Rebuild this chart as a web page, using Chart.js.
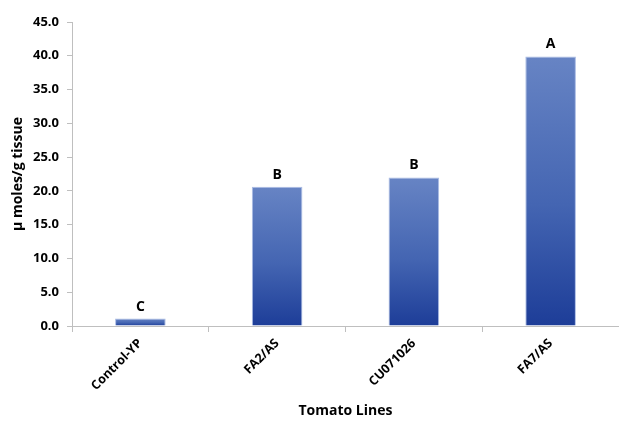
<!DOCTYPE html>
<html>
<head>
<meta charset="utf-8">
<script src="https://cdn.jsdelivr.net/npm/chart.js@4.4.1/dist/chart.umd.min.js"></script>
<style>
    html, body { margin: 0; padding: 0; background: #fff; }
    #wrap { width: 619px; height: 421px; }
</style>
</head>
<body>
<div id="wrap"><canvas id="chart" width="619" height="421"></canvas></div>
<script>
const lines = ['Control-YP', 'FA2/AS', 'CU071026', 'FA7/AS']
const amounts = [1.1, 20.6, 22.0, 39.9]
const letters = ['C', 'B', 'B', 'A']
const yTicks = [0, 5, 10, 15, 20, 25, 30, 35, 40, 45]

const font = "'Open Sans', sans-serif"

// letters above each bar
const letterPlugin = {
    id: 'letters',
    afterDatasetsDraw(chart) {
        const ctx = chart.ctx
        const meta = chart.getDatasetMeta(0)
        ctx.save()
        ctx.font = `bold 14px ${font}`
        ctx.fillStyle = '#000'
        ctx.textAlign = 'center'
        ctx.textBaseline = 'alphabetic'
        meta.data.forEach((bar, i) => ctx.fillText(letters[i], bar.x, bar.y - 8))
        ctx.restore()
    }
}

function barFill(c) {
    const chart = c.chart
    if (!chart.chartArea || c.raw === undefined) return '#3f62b0'
    const y = chart.scales.y
    const top = y.getPixelForValue(c.raw)
    const bottom = y.getPixelForValue(0)
    const g = chart.ctx.createLinearGradient(0, top, 0, bottom)
    g.addColorStop(0, '#6784c4')
    g.addColorStop(0.55, '#4465b2')
    g.addColorStop(1, '#1d3d98')
    return g
}

const ctx = document.getElementById('chart').getContext('2d')
new Chart(ctx, {
    type: 'bar',
    data: {
        labels: lines,
        datasets: [{
            data: amounts,
            backgroundColor: barFill,
            borderColor: 'rgba(160,180,225,0.9)',
            borderWidth: 1,
            borderSkipped: 'bottom',
            barPercentage: 0.37,
            categoryPercentage: 1
        }]
    },
    options: {
        responsive: false,
        animation: false,
        layout: { padding: { left: 10, right: 0, top: 22, bottom: 2 } },
        plugins: { legend: { display: false }, tooltip: { enabled: false } },
        scales: {
            x: {
                grid: { offset: true, drawOnChartArea: false, tickLength: 6, color: '#bfbfbf' },
                border: { color: '#bfbfbf' },
                ticks: {
                    minRotation: 45, maxRotation: 45,
                    color: '#000',
                    font: { family: font, size: 12.5, weight: 'bold' },
                    padding: 4
                },
                title: {
                    display: true, text: 'Tomato Lines', color: '#000',
                    font: { family: font, size: 14, weight: 'bold' },
                    padding: { top: 4, bottom: 0 }
                },
                afterFit: s => { s.height = 93 }
            },
            y: {
                min: 0, max: 45,
                afterBuildTicks: s => { s.ticks = yTicks.map(v => ({ value: v })) },
                grid: { drawOnChartArea: false, tickLength: 5, color: '#bfbfbf' },
                border: { color: '#bfbfbf' },
                ticks: {
                    color: '#000',
                    font: { family: font, size: 13, weight: 'bold' },
                    padding: 8,
                    callback: v => Number(v).toFixed(1)
                },
                title: {
                    display: true, text: 'µ moles/g tissue', color: '#000',
                    font: { family: font, size: 14, weight: 'bold' },
                    padding: { top: 0, bottom: 4 }
                },
                afterFit: s => { s.width = 62 }
            }
        }
    },
    plugins: [letterPlugin]
})
</script>
</body>
</html>
